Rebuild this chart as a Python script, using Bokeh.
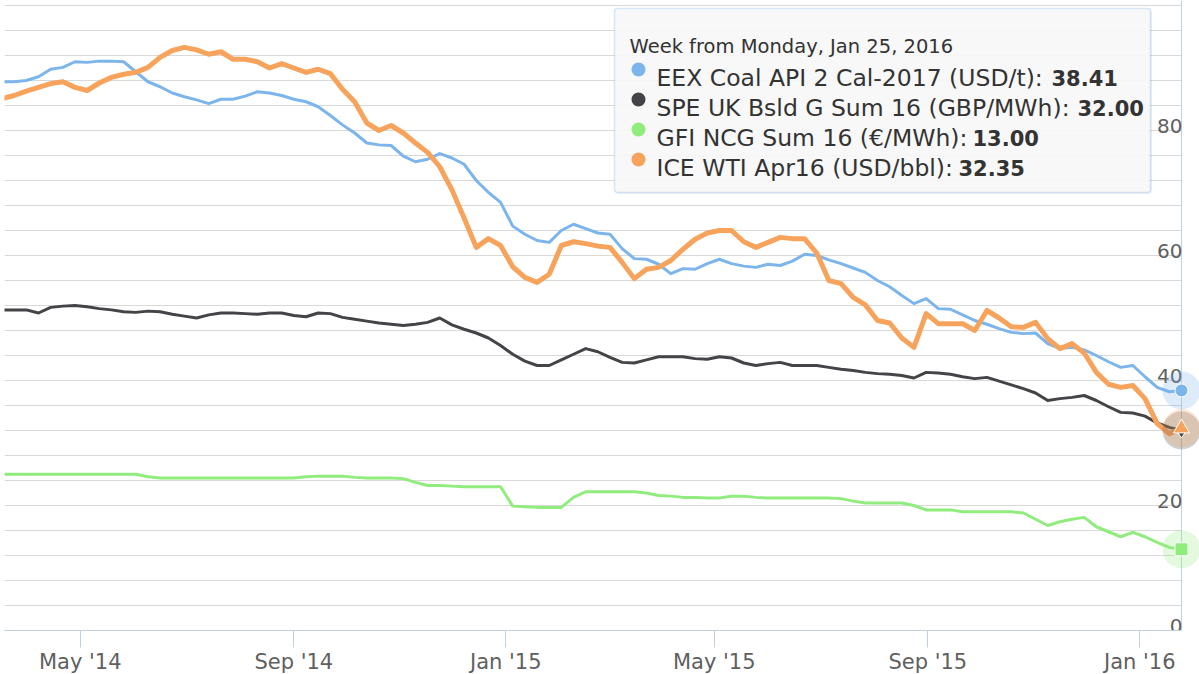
import pandas as pd
from bokeh.plotting import figure
from bokeh.models import Range1d, FixedTicker, DatetimeTickFormatter, Label, BoxAnnotation
from bokeh.core.properties import value
from bokeh.embed import file_html
from bokeh.resources import INLINE

# ---------------- data ----------------
week_start = "2014-03-17"          # weekly observations (Mondays)
n_weeks = 98

eex_coal = [
    87.8, 87.8, 88.0, 88.6, 89.8, 90.1, 91.0, 90.9, 91.1, 91.1,
    91.0, 89.4, 87.8, 87.0, 86.0, 85.4, 84.9, 84.3, 85.0, 85.0,
    85.5, 86.2, 86.0, 85.6, 85.0, 84.6, 83.8, 82.4, 80.9, 79.6,
    78.0, 77.7, 77.6, 75.9, 75.0, 75.4, 76.3, 75.6, 74.6, 72.0,
    70.1, 68.5, 64.7, 63.4, 62.4, 62.1, 64.0, 65.0, 64.3, 63.6,
    63.4, 61.1, 59.5, 59.4, 58.6, 57.1, 57.9, 57.8, 58.7, 59.4,
    58.7, 58.3, 58.1, 58.6, 58.4, 59.1, 60.2, 60.0, 59.3, 58.7,
    58.0, 57.3, 56.0, 55.0, 53.6, 52.3, 53.1, 51.5, 51.4, 50.5,
    49.6, 49.0, 48.3, 47.7, 47.5, 47.6, 45.9, 45.1, 45.3, 44.9,
    44.0, 43.0, 42.1, 42.4, 40.6, 38.9, 38.2, 38.41]

spe_uk = [
    51.3, 51.3, 51.3, 50.8, 51.7, 51.9, 52.0, 51.8, 51.5, 51.3,
    51.0, 50.9, 51.1, 51.0, 50.6, 50.3, 50.0, 50.5, 50.8, 50.8,
    50.7, 50.6, 50.8, 50.8, 50.4, 50.2, 50.8, 50.7, 50.1, 49.8,
    49.5, 49.2, 49.0, 48.8, 49.0, 49.3, 50.0, 48.9, 48.2, 47.6,
    46.8, 45.6, 44.2, 43.1, 42.4, 42.4, 43.3, 44.2, 45.1, 44.6,
    43.7, 42.9, 42.8, 43.3, 43.8, 43.8, 43.8, 43.5, 43.4, 43.8,
    43.6, 42.8, 42.4, 42.7, 42.9, 42.4, 42.4, 42.4, 42.1, 41.8,
    41.6, 41.3, 41.1, 41.0, 40.8, 40.4, 41.3, 41.2, 41.0, 40.6,
    40.3, 40.5, 39.9, 39.3, 38.7, 38.0, 36.8, 37.1, 37.3, 37.6,
    36.8, 35.8, 34.9, 34.8, 34.3, 33.2, 32.5, 32.00]

gfi_ncg = [
    25.0, 25.0, 25.0, 25.0, 25.0, 25.0, 25.0, 25.0, 25.0, 25.0,
    25.0, 25.0, 24.6, 24.4, 24.4, 24.4, 24.4, 24.4, 24.4, 24.4,
    24.4, 24.4, 24.4, 24.4, 24.4, 24.6, 24.7, 24.7, 24.7, 24.5,
    24.4, 24.4, 24.4, 24.3, 23.7, 23.2, 23.2, 23.1, 23.0, 23.0,
    23.0, 23.0, 19.9, 19.8, 19.7, 19.7, 19.7, 21.3, 22.2, 22.2,
    22.2, 22.2, 22.2, 22.0, 21.6, 21.5, 21.3, 21.3, 21.2, 21.2,
    21.5, 21.5, 21.3, 21.2, 21.2, 21.2, 21.2, 21.2, 21.2, 21.1,
    20.7, 20.4, 20.4, 20.4, 20.4, 20.0, 19.3, 19.3, 19.3, 19.0,
    19.0, 19.0, 19.0, 19.0, 18.8, 17.8, 16.8, 17.4, 17.8, 18.1,
    16.6, 15.8, 15.0, 15.7, 15.0, 14.1, 13.3, 13.00]

ice_wti = [
    85.1, 85.6, 86.3, 86.9, 87.5, 87.8, 86.9, 86.4, 87.6, 88.5,
    89.0, 89.3, 90.1, 91.7, 92.8, 93.3, 92.9, 92.2, 92.6, 91.4,
    91.4, 91.0, 90.0, 90.7, 90.0, 89.3, 89.8, 89.1, 86.6, 84.6,
    81.2, 80.0, 80.8, 79.6, 78.0, 76.5, 74.2, 70.5, 66.0, 61.3,
    62.7, 61.6, 58.2, 56.5, 55.7, 57.0, 61.6, 62.2, 61.9, 61.5,
    61.3, 58.9, 56.3, 57.8, 58.1, 59.2, 61.0, 62.6, 63.6, 64.0,
    64.0, 62.2, 61.3, 62.1, 62.9, 62.7, 62.7, 60.4, 56.0, 55.5,
    53.3, 52.1, 49.6, 49.2, 46.8, 45.3, 50.7, 49.1, 49.1, 49.1,
    48.0, 51.2, 50.0, 48.6, 48.5, 49.3, 46.7, 45.1, 45.9, 44.4,
    41.3, 39.4, 38.9, 39.2, 37.1, 33.1, 31.5, 32.35]

series_names = ["EEX Coal API 2 Cal-2017 (USD/t)",
                "SPE UK Bsld G Sum 16 (GBP/MWh)",
                "GFI NCG Sum 16 (€/MWh)",
                "ICE WTI Apr16 (USD/bbl)"]
series_colors = ["#7cb5ec", "#434348", "#90ed7d", "#f7a35c"]
tooltip_title = "Week from Monday, Jan 25, 2016"

x_tick_dates = ["2014-05-01", "2014-09-01", "2015-01-01",
                "2015-05-01", "2015-09-01", "2016-01-01"]
y_label_values = [0, 20, 40, 60, 80]
grid_values = list(range(0, 101, 4))


def ms(t):
    return pd.Timestamp(t).value / 1e6


dates = [ms(d) for d in pd.date_range(week_start, periods=n_weeks, freq="7D")]
last_x = dates[-1]

# ---------------- layout ----------------
x_start = ms("2014-03-18 10:00")
x_end = ms("2016-02-04 09:00")
Y_TOP = 100.8
FONT = "DejaVu Sans"

p = figure(x_axis_type="datetime", y_axis_location=None,
           frame_width=1195, frame_height=630,
           x_range=Range1d(x_start, x_end), y_range=Range1d(0, Y_TOP),
           output_backend="svg", toolbar_location=None,
           min_border_left=4, min_border_right=0, min_border_top=0, min_border_bottom=0)
p.outline_line_color = None
p.background_fill_color = "white"
p.border_fill_color = "white"
p.xgrid.visible = False
p.ygrid.visible = False

# grid lines (stop at the right-hand axis line)
p.segment(x0=[x_start] * len(grid_values), x1=[last_x] * len(grid_values),
          y0=grid_values, y1=grid_values, line_color="#d9d9d9", line_width=1)
# right axis line
p.segment(x0=[last_x], x1=[last_x], y0=[0], y1=[Y_TOP], line_color="#c0d0e0", line_width=1)

# y labels, inside the plot, right aligned above their grid line
p.text(x=[last_x] * len(y_label_values), y=y_label_values,
       text=[str(v) for v in y_label_values],
       text_font=value(FONT), text_font_size="20px", text_color="#606060",
       text_align="right", text_baseline="alphabetic", x_offset=1, y_offset=-5)

# lines
widths = [3, 3, 3, 5]
all_series = [eex_coal, spe_uk, gfi_ncg, ice_wti]
for ys, c, w in zip(all_series, series_colors, widths):
    p.line(dates, ys, line_color=c, line_width=w, line_join="round", line_cap="round")

# hover halos + markers at the last week
markers = ["circle", "diamond", "square", "triangle"]
marker_sizes = [13, 15, 13, 16]
for ys, c in zip(all_series, series_colors):
    p.scatter([last_x], [ys[-1]], size=38, marker="circle",
              fill_color=c, fill_alpha=0.25, line_color=None)
for ys, c, m, s in zip(all_series, series_colors, markers, marker_sizes):
    p.scatter([last_x], [ys[-1]], size=s, marker=m,
              fill_color=c, line_color="white", line_width=1)

# x axis
ax = p.xaxis[0]
ax.ticker = FixedTicker(ticks=[ms(d) for d in x_tick_dates])
fmt = "%b '%y"
ax.formatter = DatetimeTickFormatter(microseconds=fmt, milliseconds=fmt, seconds=fmt,
                                     minsec=fmt, minutes=fmt, hourmin=fmt, hours=fmt,
                                     days=fmt, months=fmt, years=fmt)
ax.bounds = (x_start, last_x)
ax.axis_line_color = "#c0d0e0"
ax.axis_line_width = 1
ax.major_tick_line_color = "#c0d0e0"
ax.major_tick_out = 17
ax.major_tick_in = 0
ax.minor_tick_line_color = None
ax.major_label_standoff = 2
ax.major_label_text_font = FONT
ax.major_label_text_font_size = "21px"
ax.major_label_text_color = "#606060"

# ---------------- tooltip (static) ----------------
# screen units: x from frame left (page x - 4), y from frame bottom (630 - page y)
def sx(px):
    return px - 4


def sy(py):
    return 630 - py


def screen_box(l, r, t, b, **kw):
    return BoxAnnotation(left=sx(l), right=sx(r), top=sy(t), bottom=sy(b),
                         left_units="screen", right_units="screen",
                         top_units="screen", bottom_units="screen", **kw)


p.add_layout(screen_box(615.5, 1151.5, 9.5, 193.5, fill_color="black", fill_alpha=0.06,
                        line_color=None, border_radius=3))
p.add_layout(screen_box(614, 1150, 8, 192, fill_color="#f9f9f9", fill_alpha=0.92,
                        line_color="#7cb5ec", line_width=1.5, border_radius=3))

p.add_layout(Label(x=sx(629), y=sy(46), x_units="screen", y_units="screen", text=tooltip_title,
                   text_font=FONT, text_font_size="19.5px", text_color="#333333",
                   text_baseline="alphabetic", text_align="left"))

row_base = [77, 107, 137, 167]
bold_px = [1051, 1077, 972, 958]
for name, ys, c, yb, bx in zip(series_names, all_series, series_colors, row_base, bold_px):
    p.add_layout(screen_box(631, 645, yb - 15, yb - 1, fill_color=c, fill_alpha=1,
                            line_color=None, border_radius=7))
    p.add_layout(Label(x=sx(656), y=sy(yb), x_units="screen", y_units="screen",
                       text=name + ":", text_font=FONT, text_font_size="23.5px",
                       text_color="#333333", text_baseline="alphabetic", text_align="left"))
    p.add_layout(Label(x=sx(bx), y=sy(yb), x_units="screen", y_units="screen",
                       text=f"{ys[-1]:.2f}", text_font=FONT, text_font_size="21px",
                       text_font_style="bold", text_color="#333333",
                       text_baseline="alphabetic", text_align="left"))

open("out.html", "w").write(file_html(p, INLINE))
